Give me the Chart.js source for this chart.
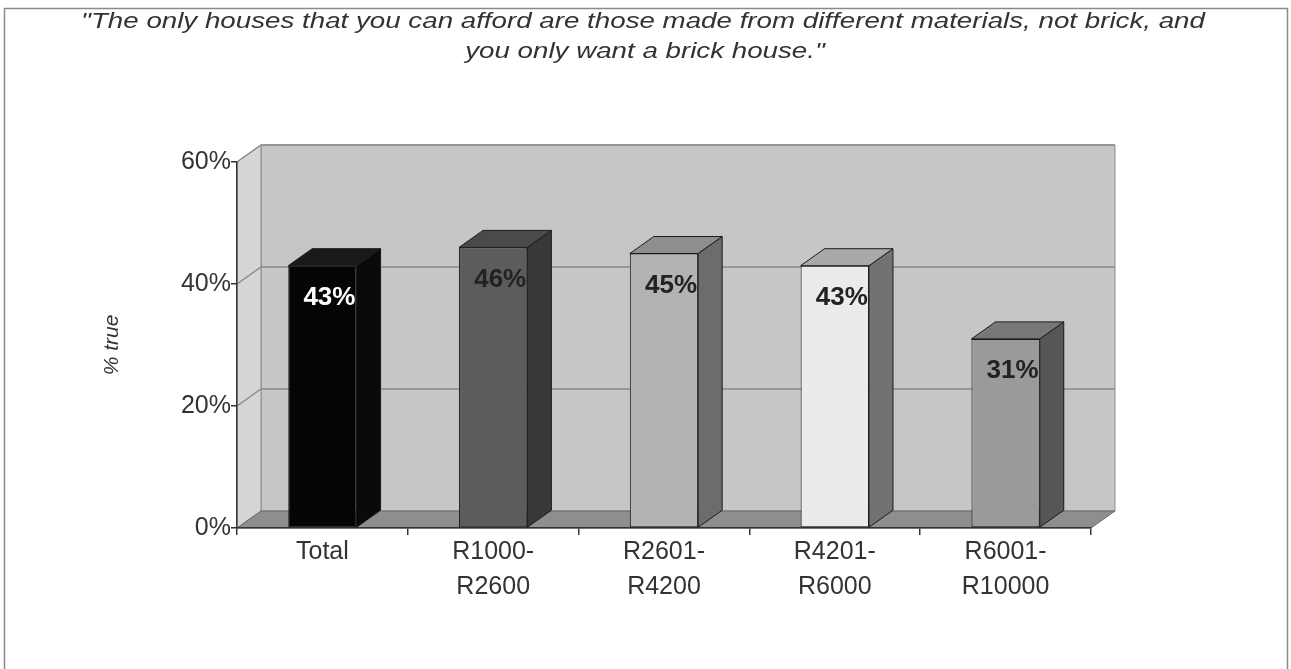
<!DOCTYPE html>
<html>
<head>
<meta charset="utf-8">
<title>Brick house affordability</title>
<script src="https://cdn.jsdelivr.net/npm/chart.js@4/dist/chart.umd.min.js"></script>
<style>
  html, body { margin: 0; padding: 0; background: #ffffff; }
  canvas { display: block; }
</style>
</head>
<body>
<canvas id="chart" width="1291" height="669"></canvas>
<script>
// Survey answers: share saying the statement is true, by household income group
const categories = ['Total', ['R1000-', 'R2600'], ['R2601-', 'R4200'], ['R4201-', 'R6000'], ['R6001-', 'R10000']];
const percentTrue = [43, 46, 45, 43, 31];
const axisMax = 60;
const axisStep = 20;
const titleLines = ['"The only houses that you can afford are those made from different materials, not brick, and', 'you only want a brick house."'];
const axisTitle = '% true';

// Shades for the front, side and top faces of each column
const frontShades = ['#050505', '#5c5c5c', '#b3b3b3', '#ebebeb', '#9a9a9a'];
const sideShades  = ['#0a0a0a', '#383838', '#6c6c6c', '#727272', '#565656'];
const topShades   = ['#1a1a1a', '#4a4a4a', '#8e8e8e', '#a9a9a9', '#787878'];
const labelShades = ['#ffffff', '#222222', '#222222', '#222222', '#222222'];

const FONT = '"Liberation Sans", Arial, sans-serif';
const DEPTH_X = 24;   // receding depth of the 3-D box
const DEPTH_Y = -17;

function poly(ctx, pts, fill, stroke, lw) {
  ctx.beginPath();
  ctx.moveTo(pts[0][0], pts[0][1]);
  for (let i = 1; i < pts.length; i++) ctx.lineTo(pts[i][0], pts[i][1]);
  ctx.closePath();
  if (fill) { ctx.fillStyle = fill; ctx.fill(); }
  if (stroke) { ctx.strokeStyle = stroke; ctx.lineWidth = lw || 1; ctx.stroke(); }
}

// Page frame, heading, axis title and the walls/floor of the 3-D plot box
const boxPlugin = {
  id: 'box3d',
  beforeDraw(chart) {
    const ctx = chart.ctx;
    const a = chart.chartArea;
    const y = chart.scales.y;
    ctx.save();
    ctx.fillStyle = '#ffffff';
    ctx.fillRect(0, 0, chart.width, chart.height);

    // frame
    ctx.strokeStyle = '#8a8a8a';
    ctx.lineWidth = 1.5;
    ctx.strokeRect(4.5, 8.5, 1283, 680);

    // heading, set in a wide italic face
    ctx.fillStyle = '#333333';
    ctx.font = 'italic 22px ' + FONT;
    ctx.textAlign = 'center';
    ctx.textBaseline = 'middle';
    ctx.save();
    ctx.translate(643, 0);
    ctx.scale(1.26, 1);
    ctx.fillText(titleLines[0], 0, 22);
    ctx.fillText(titleLines[1], 2 / 1.26, 52);
    ctx.restore();

    // axis title
    ctx.save();
    ctx.translate(112, 345);
    ctx.rotate(-Math.PI / 2);
    ctx.font = 'italic 21px ' + FONT;
    ctx.fillText(axisTitle, 0, 0);
    ctx.restore();

    const L = a.left, R = a.right, T = a.top, B = a.bottom;
    const dx = DEPTH_X, dy = DEPTH_Y;
    // back wall
    poly(ctx, [[L + dx, T + dy], [R + dx, T + dy], [R + dx, B + dy], [L + dx, B + dy]], '#c6c6c6', '#8c8c8c', 1);
    // side wall
    poly(ctx, [[L, T], [L + dx, T + dy], [L + dx, B + dy], [L, B]], '#d6d6d6', '#8c8c8c', 1);
    // floor
    poly(ctx, [[L, B], [L + dx, B + dy], [R + dx, B + dy], [R, B]], '#8e8e8e', '#6a6a6a', 1);

    // gridlines on the walls
    ctx.strokeStyle = '#8a8a8a';
    ctx.lineWidth = 1.5;
    for (let v = axisStep; v <= axisMax; v += axisStep) {
      const py = y.getPixelForValue(v);
      ctx.beginPath();
      ctx.moveTo(L, py);
      ctx.lineTo(L + dx, py + dy);
      ctx.lineTo(R + dx, py + dy);
      ctx.stroke();
    }
    ctx.restore();
  },
  afterDatasetsDraw(chart) {
    const ctx = chart.ctx;
    const meta = chart.getDatasetMeta(0);
    const dx = DEPTH_X, dy = DEPTH_Y;
    ctx.save();
    meta.data.forEach((bar, i) => {
      const l = bar.x - bar.width / 2, r = bar.x + bar.width / 2;
      const t = bar.y, b = bar.base;
      // side face
      poly(ctx, [[r, t], [r + dx, t + dy], [r + dx, b + dy], [r, b]], sideShades[i], '#1a1a1a', 1);
      // top face
      poly(ctx, [[l, t], [l + dx, t + dy], [r + dx, t + dy], [r, t]], topShades[i], '#1a1a1a', 1);
    });
    // value labels
    ctx.font = 'bold 26px ' + FONT;
    ctx.textAlign = 'center';
    ctx.textBaseline = 'middle';
    meta.data.forEach((bar, i) => {
      ctx.fillStyle = labelShades[i];
      ctx.fillText(percentTrue[i] + '%', bar.x + 7, bar.y + 32);
    });
    ctx.restore();
  }
};

new Chart(document.getElementById('chart'), {
  type: 'bar',
  data: {
    labels: categories,
    datasets: [{
      data: percentTrue,
      backgroundColor: frontShades,
      borderColor: '#1a1a1a',
      borderWidth: 1,
      borderSkipped: false,
      categoryPercentage: 1,
      barPercentage: 0.4
    }]
  },
  options: {
    responsive: false,
    animation: false,
    layout: { padding: { left: 117, right: 200, top: 162, bottom: 41 } },
    plugins: { legend: { display: false }, tooltip: { enabled: false }, title: { display: false } },
    scales: {
      x: {
        offset: true,
        grid: { offset: true, drawOnChartArea: false, drawTicks: true, tickLength: 7, color: '#333333', lineWidth: 1.5 },
        border: { color: '#333333', width: 1.5 },
        ticks: { font: { family: FONT, size: 25, lineHeight: 1.4 }, color: '#333333', padding: 0, maxRotation: 0, autoSkip: false },
        afterFit(s) { s.height = 100; }
      },
      y: {
        min: 0,
        max: axisMax,
        ticks: { stepSize: axisStep, callback: v => v + '%', font: { family: FONT, size: 25 }, color: '#333333', padding: 0 },
        grid: { drawOnChartArea: false, tickLength: 6, color: '#333333', lineWidth: 1.5 },
        border: { color: '#333333', width: 1.5 },
        afterFit(s) { s.width = 120; }
      }
    }
  },
  plugins: [boxPlugin]
});
</script>
</body>
</html>
